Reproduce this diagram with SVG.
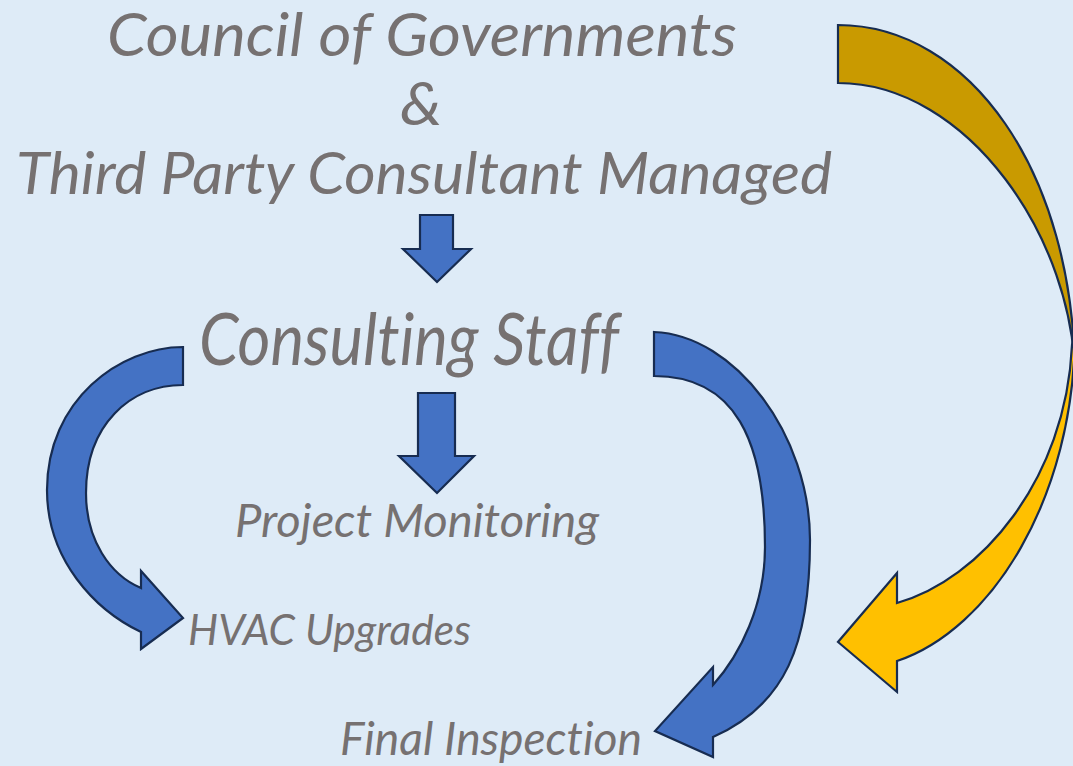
<svg xmlns="http://www.w3.org/2000/svg" width="1073" height="766" viewBox="0 0 1073 766">
<style>
.t{font-family:"Lato","Open Sans","Liberation Sans",sans-serif;font-style:italic;fill:#767171;font-variant-ligatures:none}
.blue{fill:#4472C4;stroke:#172C51;stroke-width:2.2;stroke-linejoin:miter}
.gold{fill:#FFC000;stroke:#172C51;stroke-width:2.2}
.golddark{fill:#C99A00;stroke:#172C51;stroke-width:2.2}
</style>
<rect width="1073" height="766" fill="#DEEBF7"/>
<g id="connectors">
<path class="golddark" d="M838,25 C968,25 1075,170 1075,380 C1075,240 968,83 838,83 Z"/>
<path class="gold" d="M1075,330 C1075,500 990,630 897,661 L897,692 L838,642 L897,573 L897,603 C980,580 1066,480 1072,345 Z"/>
<path class="blue" d="M420,215 L453,215 L453,249 L471,249 L437,282 L403,249 L420,249 Z"/>
<path class="blue" d="M418,393 L455,393 L455,456 L474,456 L437,493 L399,456 L418,456 Z"/>
<path class="blue" d="M183,347 C120,347 47,400 47,490 C47,560 95,610 141,632 L141,649 L183,618 L141,571 L141,588 C110,575 86,540 86,493 C86,425 130,385 183,385 Z"/>
<path class="blue" d="M654,332 C735,335 810,435 810,540 C810,645 785,705 713,737 L713,757 L655,731 L713,667 L713,685 C740,655 765,605 765,547 C765,440 735,376 654,376 Z"/>
</g>
<g id="node-cog"><text class="t" x="107" y="56" font-size="61" textLength="630" lengthAdjust="spacingAndGlyphs">Council of Governments</text></g>
<g id="node-amp"><text class="t" x="400" y="125" font-size="61" textLength="42" lengthAdjust="spacingAndGlyphs">&amp;</text></g>
<g id="node-third"><text class="t" x="16" y="194" font-size="58" textLength="816" lengthAdjust="spacingAndGlyphs">Third Party Consultant Managed</text></g>
<g id="node-staff"><text class="t" x="199" y="365" font-size="71" textLength="420" lengthAdjust="spacingAndGlyphs">Consulting Staff</text></g>
<g id="node-monitoring"><text class="t" x="235" y="537" font-size="46" textLength="364" lengthAdjust="spacingAndGlyphs">Project Monitoring</text></g>
<g id="node-hvac"><text class="t" x="188" y="645" font-size="42" textLength="283" lengthAdjust="spacingAndGlyphs">HVAC Upgrades</text></g>
<g id="node-final"><text class="t" x="340" y="755" font-size="47" textLength="302" lengthAdjust="spacingAndGlyphs">Final Inspection</text></g>
</svg>
